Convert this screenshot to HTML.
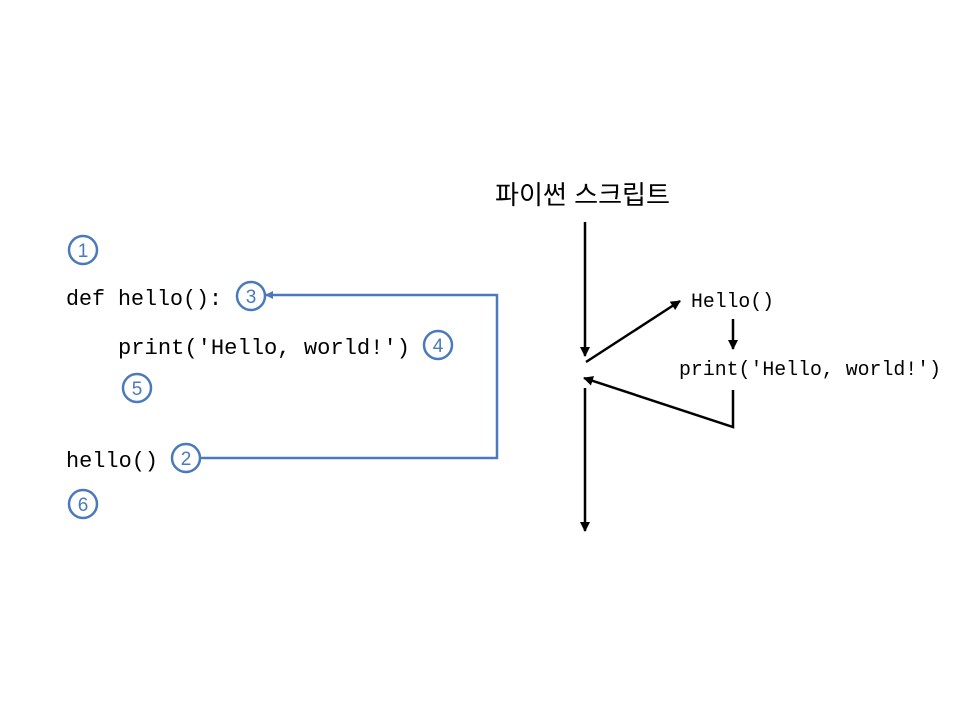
<!DOCTYPE html>
<html><head><meta charset="utf-8"><style>
html,body{margin:0;padding:0;background:#fff;}
svg{display:block;}
.code{font-family:"Liberation Mono",monospace;font-size:22px;fill:#000;}
.num{font-family:"Liberation Sans",sans-serif;font-size:19px;fill:#4a7abb;text-anchor:middle;}
</style></head><body>
<svg width="960" height="720" viewBox="0 0 960 720" xmlns="http://www.w3.org/2000/svg">
<defs>
<marker id="ab" markerWidth="8" markerHeight="8" refX="7" refY="4" orient="auto" markerUnits="userSpaceOnUse"><path d="M0,0 L8,4 L0,8 z" fill="#4a7abb"/></marker>
<marker id="ak" markerWidth="10" markerHeight="10" refX="9" refY="5" orient="auto" markerUnits="userSpaceOnUse"><path d="M0,0 L10,5 L0,10 z" fill="#000"/></marker>
</defs>
<text class="code" x="66" y="305" textLength="156" lengthAdjust="spacingAndGlyphs">def hello():</text>
<text class="code" x="118" y="354" textLength="292" lengthAdjust="spacingAndGlyphs">print('Hello, world!')</text>
<text class="code" x="66" y="467" textLength="92" lengthAdjust="spacingAndGlyphs">hello()</text>
<g fill="none" stroke="#4a7abb" stroke-width="2.5">
<circle cx="83" cy="250" r="14"/>
<circle cx="251" cy="296" r="14"/>
<circle cx="438" cy="345" r="14"/>
<circle cx="137" cy="388" r="14"/>
<circle cx="186" cy="458" r="14"/>
<circle cx="83" cy="504" r="14"/>
</g>
<text class="num" x="83" y="257">1</text>
<text class="num" x="251" y="303">3</text>
<text class="num" x="438" y="352">4</text>
<text class="num" x="137" y="395">5</text>
<text class="num" x="186" y="465">2</text>
<text class="num" x="83" y="511">6</text>
<polyline points="200,458 497,458 497,295 266,295" fill="none" stroke="#4a7abb" stroke-width="2.5" marker-end="url(#ab)"/>
<text x="495" y="204" font-family="'Liberation Sans','Noto Sans CJK KR',sans-serif" font-size="26" textLength="175" lengthAdjust="spacingAndGlyphs">파이썬 스크립트</text>
<text class="code" x="691" y="307" style="font-size:20px" textLength="83" lengthAdjust="spacingAndGlyphs">Hello()</text>
<text class="code" x="679" y="375" style="font-size:20px" textLength="262" lengthAdjust="spacingAndGlyphs">print('Hello, world!')</text>
<g stroke="#000" stroke-width="2.5" fill="none">
<line x1="585" y1="222" x2="585" y2="356" marker-end="url(#ak)"/>
<line x1="586" y1="362" x2="680" y2="301" marker-end="url(#ak)"/>
<line x1="733" y1="319" x2="733" y2="349" marker-end="url(#ak)"/>
<polyline points="733,390 733,427 584,378" marker-end="url(#ak)"/>
<line x1="585" y1="388" x2="585" y2="531" marker-end="url(#ak)"/>
</g>
</svg>
</body></html>
